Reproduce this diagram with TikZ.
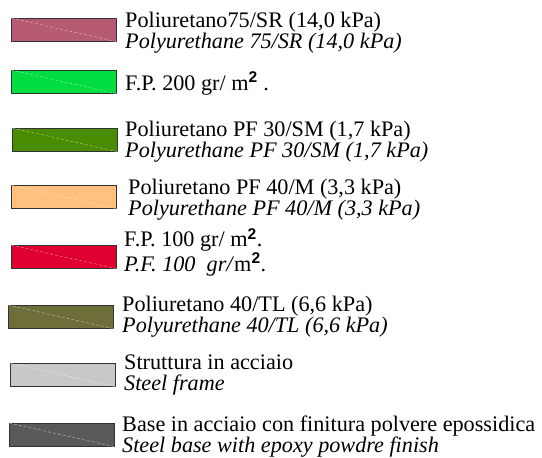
\documentclass[tikz,border=0pt]{standalone}
\usepackage{fontspec}
\setmainfont{Liberation Serif}
\setsansfont{Liberation Sans}
\usetikzlibrary{positioning}

\definecolor{mauve}{HTML}{B55A70}
\definecolor{fpgreen}{HTML}{00DD40}
\definecolor{pfgreen}{HTML}{4A8C00}
\definecolor{pforange}{HTML}{FFC080}
\definecolor{fpred}{HTML}{E00030}
\definecolor{olive}{HTML}{6E6E3A}
\definecolor{steel}{HTML}{C8C8C8}
\definecolor{basegrey}{HTML}{5A5A5A}

\newcommand{\sq}{\textsuperscript{\sffamily\bfseries 2}}

\begin{document}
\begin{tikzpicture}[
    x=1pt, y=-1pt,
    swatch/.style={rectangle, draw=black!80, line width=0.8pt, minimum width=105pt, minimum height=23pt, inner sep=0pt, anchor=north west},
    hatch/.style={white, opacity=0.6, line width=0.4pt, dash pattern=on 3pt off 2pt},
    label/.style={anchor=base west, inner sep=0pt, align=left, font=\fontsize{22.2}{21}\selectfont}
]
\useasboundingbox (0,0) rectangle (542,458);

% Swatches
\node[swatch, fill=mauve] (pu75) at (11,18) {};
\node[swatch, fill=fpgreen] (fp200) at (11,70) {};
\node[swatch, fill=pfgreen] (pf30) at (12,128) {};
\node[swatch, fill=pforange] (pf40) at (11,185) {};
\node[swatch, fill=fpred] (fp100) at (11,245) {};
\node[swatch, fill=olive] (pu40) at (8,305) {};
\node[swatch, fill=steel] (frame) at (10,363) {};
\node[swatch, fill=basegrey] (base) at (9,423) {};

% Diagonals
\foreach \s in {pu75, fp200, pf30, pf40, fp100, pu40, frame, base}
  \draw[hatch] (\s.north west) -- (\s.south east);

% Labels (base = last line)
\node[label] (pu75txt) at (125,48) {Poliuretano75/SR (14,0 kPa)\\\textit{Polyurethane 75/SR (14,0 kPa)}};
\node[label] (fp200txt) at (125,90) {F.P. 200 gr/ m\sq\ .};
\node[label] (pf30txt) at (125,157) {Poliuretano PF 30/SM (1,7 kPa)\\\textit{Polyurethane PF 30/SM (1,7 kPa)}};
\node[label] (pf40txt) at (128,215) {Poliuretano PF 40/M (3,3 kPa)\\\textit{Polyurethane PF 40/M (3,3 kPa)}};
\node[label] (fp100txt) at (124,271) {F.P. 100 gr/ m\sq.\\\textit{P.F. 100 \ gr/}m\sq.};
\node[label] (pu40txt) at (122,332) {Poliuretano 40/TL (6,6 kPa)\\\textit{Polyurethane 40/TL (6,6 kPa)}};
\node[label] (frametxt) at (124,390) {Struttura in acciaio\\\textit{Steel frame}};
\node[label] (basetxt) at (122,452) {Base in acciaio con finitura polvere epossidica\\\textit{Steel base with epoxy powdre finish}};

\end{tikzpicture}
\end{document}
